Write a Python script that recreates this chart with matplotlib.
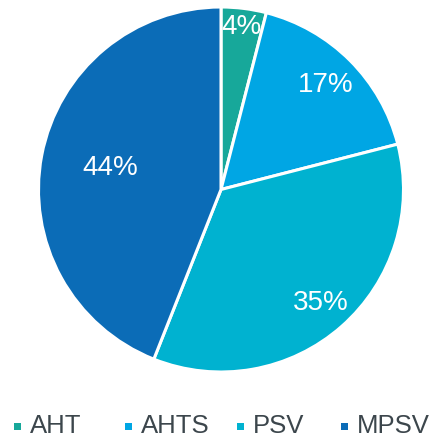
import matplotlib
matplotlib.use("Agg")
import matplotlib.pyplot as plt
import numpy as np

categories = ["AHT", "AHTS", "PSV", "MPSV"]
values = [4, 17, 35, 44]
colors = ["#17a89a", "#00a6e4", "#00b2d0", "#0b6cb7"]
label_dist = [0.90, 0.81, 0.83, 0.62]
legend_x_px = [17, 128, 240, 344]

plt.rcParams['font.family'] = ['Liberation Sans', 'DejaVu Sans']

fig = plt.figure(figsize=(4.36, 4.40), dpi=100)
W, H = 436, 440
cx, cy, r = 221, 189.5, 182.5
ax = fig.add_axes([(cx - r) / W, (H - cy - r) / H, 2 * r / W, 2 * r / H])

wedges, _ = ax.pie(values, colors=colors, startangle=90, counterclock=False,
                   wedgeprops=dict(edgecolor="white", linewidth=2.2))
ax.set_xlim(-1, 1)
ax.set_ylim(-1, 1)
ax.set_aspect("equal")
ax.axis("off")

for w, v, d in zip(wedges, values, label_dist):
    ang = np.deg2rad((w.theta1 + w.theta2) / 2)
    ax.text(d * np.cos(ang), d * np.sin(ang), f"{v}%", color="white",
            fontsize=20, ha="center", va="center")

ly = 1 - 426 / H
for name, c, xp in zip(categories, colors, legend_x_px):
    fig.add_artist(plt.Rectangle(((xp - 3.5) / W, ly - 3.5 / H), 7 / W, 7 / H,
                                 facecolor=c, edgecolor="none",
                                 transform=fig.transFigure))
    fig.text((xp + 13) / W, ly, name, fontsize=18.5, color="#3c464c",
             ha="left", va="center")

fig.savefig("out.png", dpi=100)
